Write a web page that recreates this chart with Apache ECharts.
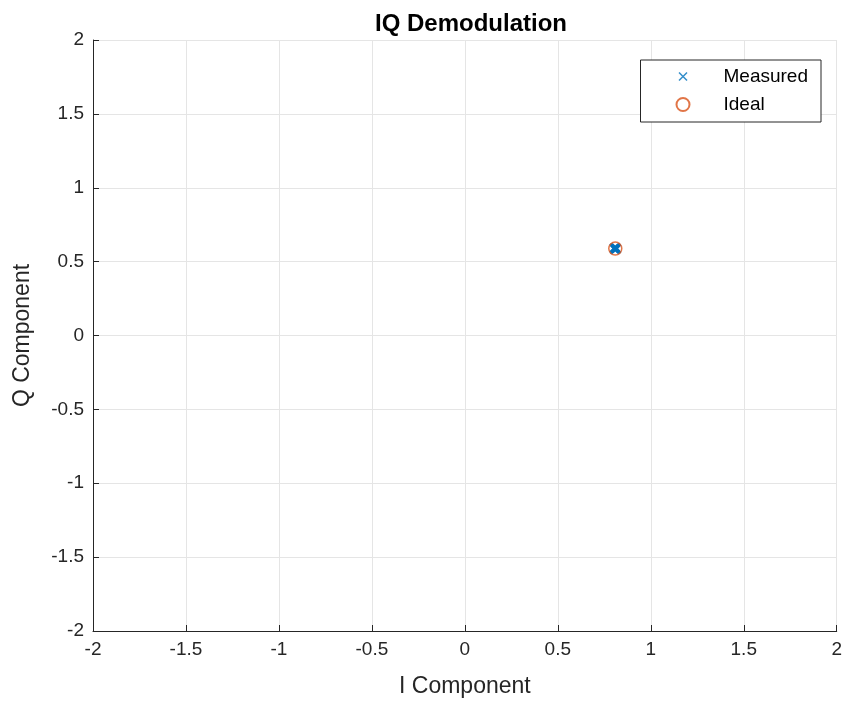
<!DOCTYPE html>
<html><head><meta charset="utf-8">
<script src="https://cdn.jsdelivr.net/npm/echarts@6/dist/echarts.min.js"></script>
<style>html,body{margin:0;padding:0;background:#fff}#c{width:845px;height:704px}</style>
</head><body><div id="c"></div>
<script>
const titleText = 'IQ Demodulation';
const xLabel = 'I Component';
const yLabel = 'Q Component';
const measuredI = [0.809, 0.815, 0.803, 0.812, 0.806, 0.818, 0.800, 0.811, 0.807, 0.814, 0.804, 0.810];
const measuredQ = [0.588, 0.592, 0.584, 0.581, 0.595, 0.587, 0.590, 0.598, 0.579, 0.585, 0.593, 0.589];
const idealI = [0.809];
const idealQ = [0.588];

const font = 'Liberation Sans, Arial, Helvetica, sans-serif';
const chart = echarts.init(document.getElementById('c'), null, {renderer:'canvas'});
const xPath = 'path://M0,0L10,10M10,0L0,10';
const xLegendPath = 'path://M0,0L0.01,0.01M2.5,2.5L10.5,10.5M10.5,2.5L2.5,10.5M12.99,12.99L13,13';
chart.setOption({
  animation:false,
  backgroundColor:'#fff',
  title:{text:titleText,left:466,top:7,textAlign:'center',textStyle:{fontFamily:font,fontSize:24,fontWeight:'bold',color:'#000'}},
  grid:{left:93,right:5,top:40,bottom:73,containLabel:false},
  xAxis:{type:'value',min:-2,max:2,interval:0.5,name:xLabel,nameLocation:'middle',nameGap:44,
    nameTextStyle:{fontFamily:font,fontSize:23,color:'#262626'},
    axisLine:{onZero:false,lineStyle:{color:'#262626',width:1}},
    axisTick:{inside:true,length:6,lineStyle:{color:'#262626'}},
    axisLabel:{fontFamily:font,fontSize:19,color:'#262626',margin:9},
    splitLine:{show:true,lineStyle:{color:'#e5e5e5',width:1}}},
  yAxis:{type:'value',min:-2,max:2,interval:0.5,name:yLabel,nameLocation:'middle',nameGap:59,
    nameTextStyle:{fontFamily:font,fontSize:23,color:'#262626'},
    axisLine:{onZero:false,lineStyle:{color:'#262626',width:1}},
    axisTick:{inside:true,length:6,lineStyle:{color:'#262626'}},
    axisLabel:{fontFamily:font,fontSize:19,color:'#262626',margin:9},
    splitLine:{show:true,lineStyle:{color:'#e5e5e5',width:1}}},
  legend:{orient:'vertical',right:24,top:60,padding:[7,13,8,35],itemGap:9,itemWidth:13,itemHeight:13,
    borderColor:'#262626',borderWidth:1,backgroundColor:'#fff',borderRadius:0,
    textStyle:{fontFamily:font,fontSize:19,color:'#000',padding:[0,0,0,29]},
    data:[{name:'Measured',icon:xLegendPath,itemStyle:{borderWidth:1.5}},{name:'Ideal'}]},
  series:[
    {name:'Measured',type:'scatter',symbol:xPath,symbolSize:8,z:3,
      itemStyle:{color:'rgba(0,0,0,0)',borderColor:'#0072BD',borderWidth:1.5},
      data:measuredI.map((v,i)=>[v,measuredQ[i]])},
    {name:'Ideal',type:'scatter',symbol:'circle',symbolSize:13,z:4,
      itemStyle:{color:'rgba(0,0,0,0)',borderColor:'#D95319',borderWidth:1.5},
      data:idealI.map((v,i)=>[v,idealQ[i]])}
  ]
});
</script></body></html>
